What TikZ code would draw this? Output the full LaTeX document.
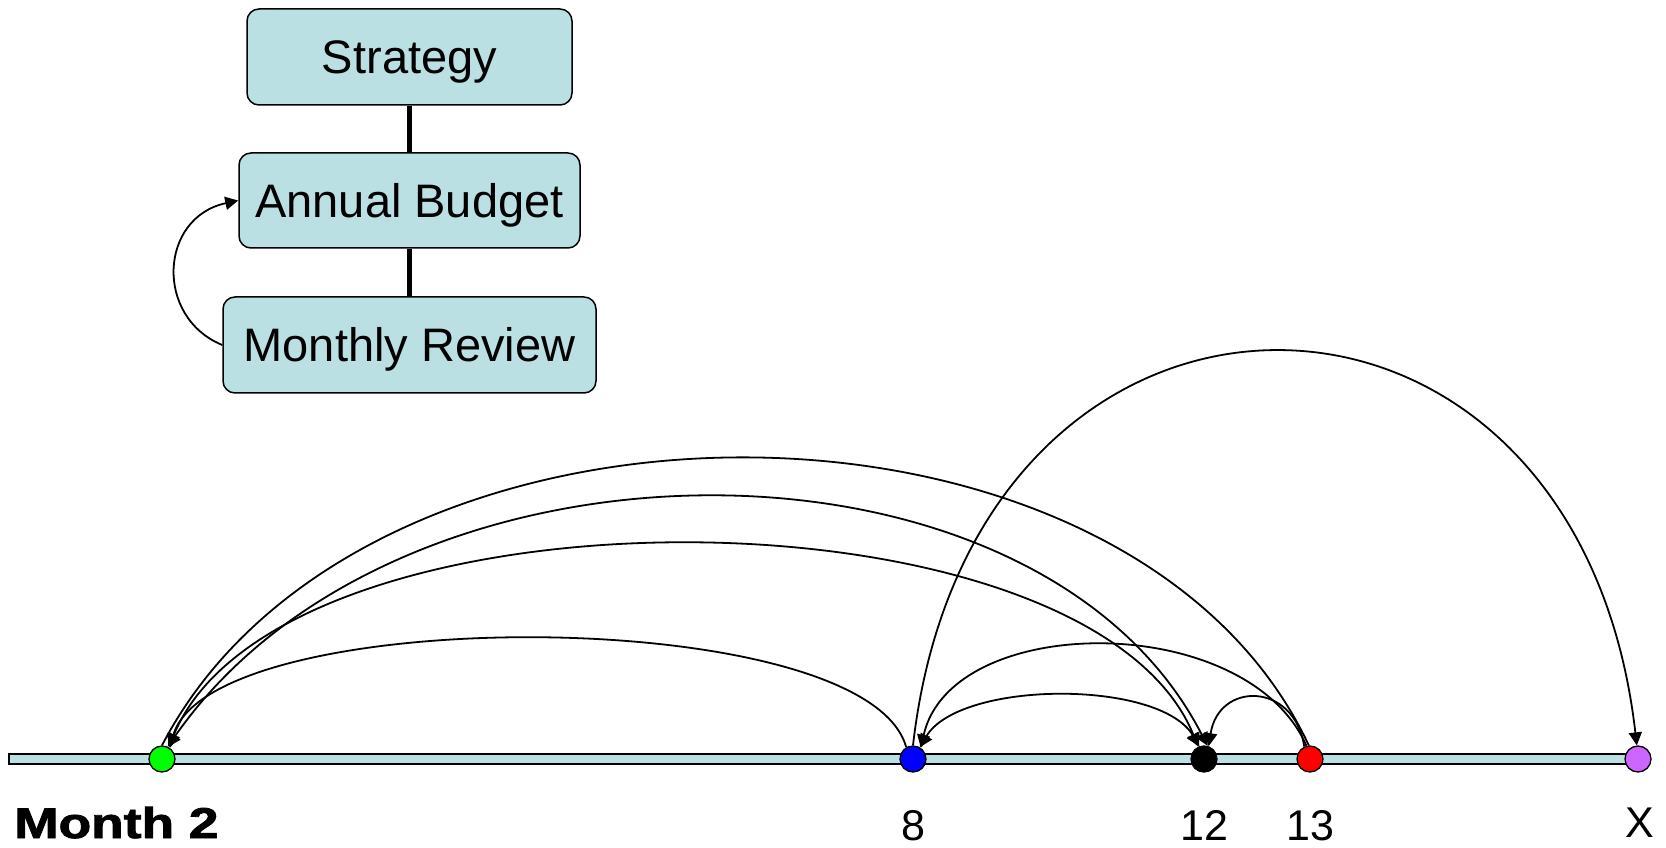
\documentclass[tikz,border=0pt]{standalone}
\usepackage{fontspec}
\setmainfont{Liberation Sans}
\newfontfamily\blackfont[FakeBold=1.8]{Liberation Sans Bold}
\usetikzlibrary{arrows.meta,calc}
\definecolor{boxfill}{RGB}{187,224,227}
\definecolor{dotpurple}{RGB}{204,102,255}
\begin{document}
\begin{tikzpicture}[x=1pt,y=1pt,
  >={Triangle[length=13pt,width=13pt]},
  box/.style={draw=black, line width=1.5pt, fill=boxfill, rounded corners=12pt, inner sep=0pt,
    font=\fontsize{47}{50}\selectfont, text height=34pt, text depth=0pt},
  dot/.style={circle, draw=black, line width=1.3pt, minimum size=26pt, inner sep=0pt},
  arc/.style={line width=1.8pt},
  link/.style={line width=4.5pt},
  lbl/.style={font=\fontsize{43}{46}\selectfont, anchor=base, inner sep=0pt}
]
\useasboundingbox (0,0) rectangle (1666,847);

% flowchart
\node[box, minimum width=325pt, minimum height=96pt] (s) at (409.5,790) {Strategy};
\node[box, minimum width=341pt, minimum height=95pt] (ab) at (409.5,646.5) {Annual Budget};
\node[box, minimum width=373pt, minimum height=96pt] (mr) at (409.5,502) {Monthly Review};
\draw[link] (s.south) -- (ab.north);
\draw[link] (ab.south) -- (mr.north);
\draw[arc,->] (mr.west) .. controls ($(mr.west)+(-68,28)$) and ($(ab.west)+(-79,-17)$) .. (ab.west);

% timeline
\node[draw=black, line width=1.3pt, fill=boxfill, minimum width=1629pt, minimum height=10pt, inner sep=0pt] (bar) at (823.5,88) {};
\node[dot, fill=green] (g) at (162,88) {};
\node[dot, fill=blue] (b) at (913,88) {};
\node[dot, fill=black] (k) at (1204,88) {};
\node[dot, fill=red] (r) at (1310,88) {};
\node[dot, fill=dotpurple] (p) at (1638,88) {};

% arcs
\draw[arc,->] (b.120) .. controls ($(b.120)+(-40,145)$) and ($(g.55)+(40,145)$) .. (g.55);
\draw[arc,<->] (g.60) .. controls ($(g.60)+(110,269)$) and ($(k.115)+(-110,269)$) .. (k.115);
\draw[arc,<->] (g.65) .. controls ($(g.65)+(230,331)$) and ($(k.75)+(-170,331)$) .. (k.75);
\draw[arc] (g.90) .. controls ($(g.90)+(200,384)$) and ($(r.95)+(-180,384)$) .. (r.95);
\draw[arc,<->] (b.60) .. controls ($(b.60)+(40,67)$) and ($(k.110)+(-40,67)$) .. (k.110);
\draw[arc,->] (r.105) .. controls ($(r.105)+(-60,136)$) and ($(b.55)+(30,136)$) .. (b.55);
\draw[arc,->] (r.115) .. controls ($(r.115)+(-10,65)$) and ($(k.70)+(10,65)$) .. (k.70);
\draw[arc,->] (b.90) .. controls ($(b.90)+(60,525)$) and ($(p.95)+(-60,525)$) .. (p.95);

% labels
\node[lbl] (l8) at (913,7) {8};
\node[lbl] (l12) at (1204,7) {12};
\node[lbl] (l13) at (1310,7) {13};
\node[lbl] (lx) at (1640,10) {X};
\node[anchor=base west, inner sep=0pt, font=\blackfont\fontsize{43}{46}\selectfont] (m2) at (14,9) {\scalebox{1.24}[1]{Month 2}};
\end{tikzpicture}
\end{document}
